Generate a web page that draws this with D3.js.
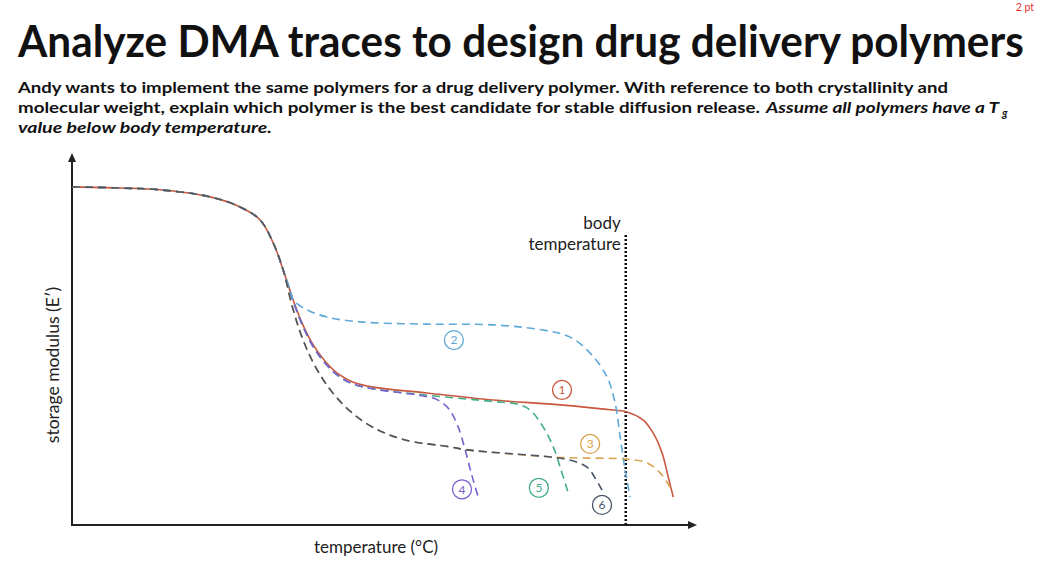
<!DOCTYPE html>
<html>
<head>
<meta charset="utf-8">
<script src="https://cdn.jsdelivr.net/npm/d3@7"></script>
<style>
  html, body { margin: 0; padding: 0; background: #fff; }
  svg { display: block; font-family: "Lato", "Open Sans", "Noto Sans", sans-serif; }
</style>
</head>
<body>
<svg id="chart" width="1040" height="580"></svg>
<script>
// ---- data (abstract units: temperature 0-100, storage modulus 0-100) ----
const glassy = [[0, 90.9], [7.7, 90.6], [14.1, 90.1], [22.1, 88.2], [26.9, 85.5], [30.1, 82.0], [32.2, 75.8], [33.8, 68.5]];

const polymer1 = [[34.5, 65.0], [35.6, 59.5], [37.0, 53.6], [38.6, 48.4], [40.5, 44.0], [42.6, 40.6], [45.0, 38.4], [48.5, 37.0], [56.8, 35.5], [67.4, 33.6], [78.1, 32.3], [86.6, 30.9], [88.8, 30.4], [91.4, 28.2], [93.0, 24.7], [94.4, 19.4], [95.4, 12.9], [96.2, 7.5]];
const polymer2 = [[34.9, 63.2], [35.4, 60.5], [37.3, 58.1], [40.8, 55.9], [46.1, 54.6], [56.8, 54.0], [67.4, 53.8], [75.4, 52.4], [79.7, 50.5], [82.9, 46.2], [85.6, 39.8], [86.9, 32.8], [87.7, 23.7], [88.5, 14.8], [89.3, 7.5]];
const polymer3 = [[35.2, 59.0], [36.8, 50.5], [38.8, 43.0], [41.4, 36.2], [44.5, 30.6], [48.0, 26.4], [53.0, 23.0], [60.5, 21.0], [63.2, 20.2], [76.5, 18.3], [78.9, 18.1], [81.8, 18.0], [88.8, 17.7], [92.0, 16.7], [94.1, 14.0], [95.7, 10.2], [96.2, 8.9]];
const polymer4 = [[34.5, 64.8], [35.6, 59.2], [37.0, 53.2], [38.6, 47.9], [40.5, 43.5], [42.6, 40.1], [45.0, 37.9], [48.5, 36.5], [52.5, 35.6], [55.7, 34.8], [58.4, 33.7], [60.3, 31.2], [61.8, 26.3], [63.0, 19.6], [64.0, 13.2], [65.0, 7.5]];
const polymer5 = [[34.5, 64.8], [35.6, 59.2], [37.0, 53.2], [38.6, 47.9], [40.5, 43.5], [42.6, 40.1], [45.0, 37.9], [48.5, 36.5], [56.8, 34.9], [67.4, 33.2], [71.2, 32.5], [73.3, 30.9], [75.4, 26.3], [77.0, 21.0], [78.1, 15.6], [79.4, 8.6]];
const polymer6 = [[35.2, 59.0], [36.8, 50.5], [38.8, 43.0], [41.4, 36.2], [44.5, 30.6], [48.0, 26.4], [53.0, 23.0], [60.5, 21.0], [63.2, 20.2], [76.5, 18.3], [78.9, 17.7], [80.8, 16.9], [82.6, 15.3], [83.7, 12.6], [84.8, 9.4]];

const seriesIds = ["1", "2", "3", "4", "5", "6"];
const seriesData = [polymer1, polymer2, polymer3, polymer4, polymer5, polymer6];
const seriesColors = ["#c9573f", "#5ea8d8", "#d9a24a", "#7a5fd3", "#43ad86", "#4a5468"];
const seriesDashed = [false, true, true, true, true, true];

// label anchors (data units)
const labelX = [78.4, 61.1, 82.9, 62.4, 74.7, 84.8];
const labelY = [36.3, 49.7, 21.8, 9.6, 10.0, 5.4];

const bodyTemp = 88.6;

const titleText = "Analyze DMA traces to design drug delivery polymers";
const subLine1 = "Andy wants to implement the same polymers for a drug delivery polymer. With reference to both crystallinity and";
const subLine2a = "molecular weight, explain which polymer is the best candidate for stable diffusion release.";
const subLine2b = "Assume all polymers have a T";
const subLine3 = "value below body temperature.";
const xLabel = "temperature (°C)";
const yLabel = "storage modulus (E′)";
const pointsText = "2 pt";

// ---- drawing ----
const svg = d3.select("#chart");
const x = d3.scaleLinear().domain([0, 100]).range([72, 697]);
const y = d3.scaleLinear().domain([0, 100]).range([525, 153]);

// header
svg.append("text").attr("x", 1034).attr("y", 11).attr("text-anchor", "end")
  .attr("font-size", 10.5).attr("fill", "#e8312f").text(pointsText);

const title = svg.append("text")
  .attr("font-size", 44).attr("font-weight", 700).attr("fill", "#111")
  .text(titleText);
const titleW = title.node().getComputedTextLength();
title.attr("transform", `translate(18,57) scale(${1006 / titleW},1)`);

const sub = svg.append("g").attr("font-size", 16).attr("font-weight", 700).attr("fill", "#111");
sub.append("text").attr("x", 18).attr("y", 93).attr("textLength", 930)
  .attr("lengthAdjust", "spacingAndGlyphs").text(subLine1);
sub.append("text").attr("x", 18).attr("y", 113).attr("textLength", 742)
  .attr("lengthAdjust", "spacingAndGlyphs").text(subLine2a);
sub.append("text").attr("x", 766).attr("y", 113).attr("font-style", "italic").attr("textLength", 233)
  .attr("lengthAdjust", "spacingAndGlyphs").text(subLine2b);
sub.append("text").attr("x", 1002).attr("y", 117).attr("font-style", "italic").attr("font-size", 11).text("g");
sub.append("text").attr("x", 18).attr("y", 133).attr("font-style", "italic").attr("textLength", 254)
  .attr("lengthAdjust", "spacingAndGlyphs").text(subLine3);

// axes
const x0 = x(0), y0 = y(0);
svg.append("line").attr("x1", x0).attr("y1", y0 + 1).attr("x2", x0).attr("y2", y(100) + 6)
  .attr("stroke", "#222").attr("stroke-width", 2);
svg.append("path").attr("d", `M${x0},${y(100)} L${x0 - 4},${y(100) + 9} L${x0 + 4},${y(100) + 9} Z`).attr("fill", "#222");
svg.append("line").attr("x1", x0 - 1).attr("y1", y0).attr("x2", x(100) - 6).attr("y2", y0)
  .attr("stroke", "#222").attr("stroke-width", 2);
svg.append("path").attr("d", `M${x(100)},${y0} L${x(100) - 9},${y0 - 4} L${x(100) - 9},${y0 + 4} Z`).attr("fill", "#222");

svg.append("text").attr("x", 376).attr("y", 553).attr("text-anchor", "middle")
  .attr("font-size", 17).attr("fill", "#222").text(xLabel);
svg.append("text").attr("transform", "translate(59,365) rotate(-90)").attr("text-anchor", "middle")
  .attr("font-size", 17.5).attr("fill", "#222").text(yLabel);

// body temperature
svg.append("line").attr("x1", x(bodyTemp)).attr("x2", x(bodyTemp)).attr("y1", 235).attr("y2", y0)
  .attr("stroke", "#111").attr("stroke-width", 2.6).attr("stroke-dasharray", "2,2");
svg.append("text").attr("x", x(bodyTemp) - 5).attr("y", 229).attr("text-anchor", "end")
  .attr("font-size", 17).attr("fill", "#222").text("body");
svg.append("text").attr("x", x(bodyTemp) - 5).attr("y", 250).attr("text-anchor", "end")
  .attr("font-size", 17).attr("fill", "#222").text("temperature");

// curves
const line = d3.line().x(d => x(d[0])).y(d => y(d[1])).curve(d3.curveCatmullRom.alpha(0.5));
const order = [0, 4, 3, 1, 2, 5];
order.forEach(i => {
  svg.append("path")
    .attr("d", line(glassy.concat(seriesData[i])))
    .attr("fill", "none")
    .attr("stroke", seriesColors[i])
    .attr("stroke-width", 1.6)
    .attr("stroke-dasharray", seriesDashed[i] ? "8,5" : null);
});

// labels
seriesIds.forEach((id, i) => {
  const g = svg.append("g").attr("transform", `translate(${x(labelX[i])},${y(labelY[i])})`);
  g.append("circle").attr("r", 9.5).attr("fill", "#fff").attr("stroke", seriesColors[i]).attr("stroke-width", 1.3);
  g.append("text").attr("text-anchor", "middle").attr("dy", "0.36em")
    .attr("font-size", 12).attr("fill", seriesColors[i]).text(id);
});
</script>
</body>
</html>
